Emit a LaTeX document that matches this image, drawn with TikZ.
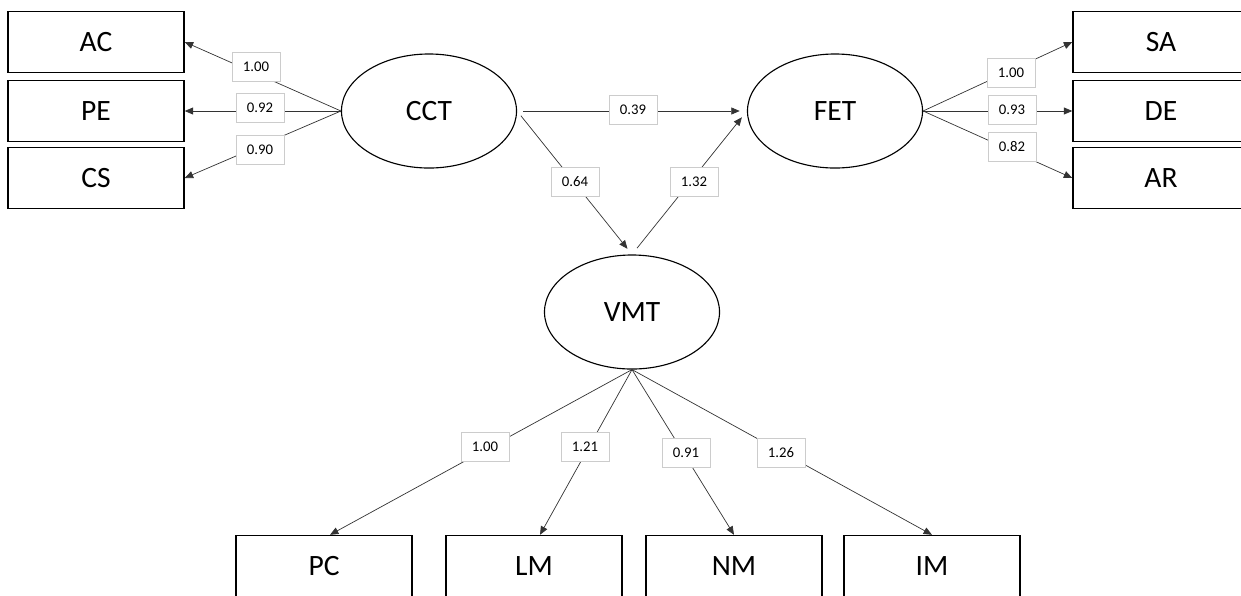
\documentclass[tikz,border=0pt]{standalone}
\usepackage{fontspec}
\setmainfont{Carlito}
\usetikzlibrary{arrows.meta, shapes.geometric, positioning, calc}
\tikzset{
  obs/.style={draw, line width=1pt, minimum width=4.4cm, minimum height=1.525cm, inner sep=0pt, font=\fontsize{21}{25}\selectfont},
  lat/.style={draw, ellipse, line width=0.8pt, minimum width=4.375cm, minimum height=2.85cm, inner sep=0pt, font=\fontsize{21}{25}\selectfont},
  conn/.style={draw=black!80, line width=0.5pt, -{Triangle[length=6pt,width=5pt]}},
  coef/.style={draw=black!20, fill=white, line width=0.5pt, minimum width=1.2cm, minimum height=0.72cm, inner sep=0pt, font=\fontsize{10.5}{12}\selectfont},
}

\begin{document}
\begin{tikzpicture}[x=0.025cm, y=-0.025cm]
    \useasboundingbox (0,0) rectangle (1241,595);
    \clip (0,0) rectangle (1241,595);

    % Latent variables
    \node[lat] (cct) at (429,111) {CCT};
    \node[lat] (fet) at (835,111) {FET};
    \node[lat] (vmt) at (632,312) {VMT};

    % Indicators of CCT
    \node[obs] (ac) at (96,42) {AC};
    \node[obs] (pe) at (96,111) {PE};
    \node[obs] (cs) at (96,178) {CS};

    % Indicators of FET
    \node[obs] (sa) at (1161,42) {SA};
    \node[obs] (de) at (1161,111) {DE};
    \node[obs] (ar) at (1161,178) {AR};

    % Indicators of VMT
    \node[obs] (pc) at (324,566) {PC};
    \node[obs] (lm) at (534,566) {LM};
    \node[obs] (nm) at (734,566) {NM};
    \node[obs] (im) at (932,566) {IM};

    % Loadings
    \draw[conn] (cct.west) -- (ac.east);
    \draw[conn] (cct.west) -- (pe.east);
    \draw[conn] (cct.west) -- (cs.east);
    \draw[conn] (fet.east) -- (sa.west);
    \draw[conn] (fet.east) -- (de.west);
    \draw[conn] (fet.east) -- (ar.west);
    \draw[conn] (vmt.south) -- ([xshift=0.15cm]pc.north);
    \draw[conn] (vmt.south) -- ([xshift=0.15cm]lm.north);
    \draw[conn] (vmt.south) -- (nm.north);
    \draw[conn] (vmt.south) -- (im.north);

    % Structural paths
    \draw[conn, shorten <=0.15cm, shorten >=0.18cm] (cct.east) -- (fet.west);
    \draw[conn, shorten <=0.15cm, shorten >=0.18cm] (cct.east) -- (vmt.north);
    \draw[conn, shorten <=0.2cm, shorten >=0.2cm] (vmt.north) -- (fet.west);

    % Coefficients
    \node[coef] (c-ac) at (256,67) {1.00};
    \node[coef] (c-pe) at (260,108) {0.92};
    \node[coef] (c-cs) at (260,150) {0.90};
    \node[coef] (c-sa) at (1011,73) {1.00};
    \node[coef] (c-de) at (1012,110) {0.93};
    \node[coef] (c-ar) at (1012,147) {0.82};
    \node[coef] (c-ff) at (633,110) {0.39};
    \node[coef] (c-cv) at (575,182) {0.64};
    \node[coef] (c-vf) at (694,182) {1.32};
    \node[coef] (c-pc) at (485,447) {1.00};
    \node[coef] (c-lm) at (585,447) {1.21};
    \node[coef] (c-nm) at (686,453) {0.91};
    \node[coef] (c-im) at (781,453) {1.26};
\end{tikzpicture}
\end{document}
